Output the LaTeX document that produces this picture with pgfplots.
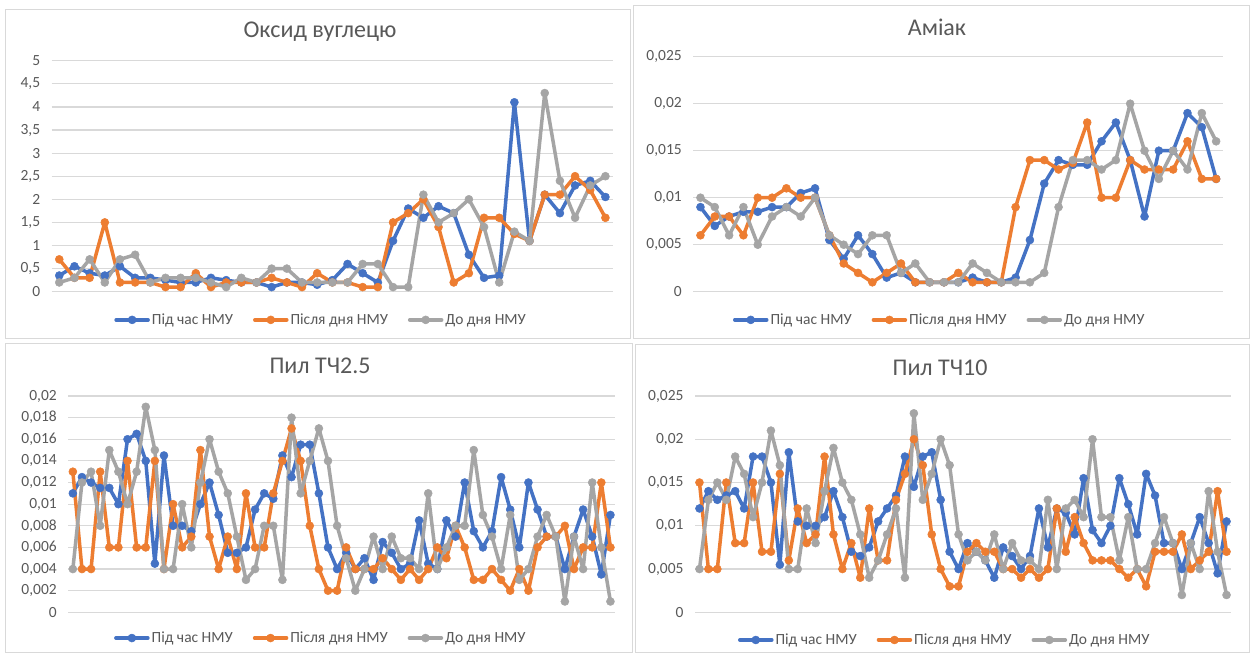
\documentclass[border=0pt]{standalone}
\usepackage{fontspec}
\setmainfont{Carlito}
\usepackage{pgfplots}
\usepackage{pgfplotstable}
\pgfplotsset{compat=1.18}
\definecolor{sblue}{HTML}{4472C4}
\definecolor{sorange}{HTML}{ED7D31}
\definecolor{sgray}{HTML}{A5A5A5}
\definecolor{gridc}{HTML}{D9D9D9}
\definecolor{txt}{HTML}{595959}
\definecolor{framec}{HTML}{D9D9D9}

\pgfplotstableread{
i a b c
0 0.35 0.7 0.2
1 0.55 0.3 0.3
2 0.4 0.3 0.7
3 0.35 1.5 0.2
4 0.55 0.2 0.7
5 0.3 0.2 0.8
6 0.3 0.2 0.2
7 0.25 0.1 0.3
8 0.2 0.1 0.3
9 0.2 0.4 0.3
10 0.3 0.1 0.2
11 0.25 0.2 0.1
12 0.2 0.2 0.3
13 0.2 0.2 0.2
14 0.1 0.3 0.5
15 0.2 0.2 0.5
16 0.2 0.1 0.2
17 0.15 0.4 0.2
18 0.25 0.2 0.2
19 0.6 0.2 0.2
20 0.4 0.1 0.6
21 0.2 0.1 0.6
22 1.1 1.5 0.1
23 1.8 1.7 0.1
24 1.6 2.0 2.1
25 1.85 1.4 1.5
26 1.7 0.2 1.7
27 0.8 0.4 2.0
28 0.3 1.6 1.4
29 0.35 1.6 0.2
30 4.1 1.25 1.3
31 1.1 1.1 1.1
32 2.1 2.1 4.3
33 1.7 2.1 2.4
34 2.3 2.5 1.6
35 2.4 2.2 2.3
36 2.05 1.6 2.5
}\COdata

\pgfplotstableread{
i a b c
0 0.009 0.006 0.010
1 0.007 0.008 0.009
2 0.008 0.008 0.006
3 0.0085 0.006 0.009
4 0.0085 0.010 0.005
5 0.009 0.010 0.008
6 0.009 0.011 0.009
7 0.0105 0.010 0.008
8 0.011 0.010 0.010
9 0.0055 0.006 0.006
10 0.0035 0.003 0.005
11 0.006 0.002 0.004
12 0.004 0.001 0.006
13 0.0015 0.002 0.006
14 0.002 0.003 0.002
15 0.001 0.001 0.003
16 0.001 0.001 0.001
17 0.001 0.001 0.001
18 0.001 0.002 0.001
19 0.0015 0.001 0.003
20 0.001 0.001 0.002
21 0.001 0.001 0.001
22 0.0015 0.009 0.001
23 0.0055 0.014 0.001
24 0.0115 0.014 0.002
25 0.014 0.013 0.009
26 0.0135 0.0137 0.014
27 0.0135 0.018 0.014
28 0.016 0.010 0.013
29 0.018 0.010 0.014
30 0.014 0.014 0.020
31 0.008 0.013 0.015
32 0.015 0.013 0.012
33 0.015 0.013 0.015
34 0.019 0.016 0.013
35 0.0175 0.012 0.019
36 0.012 0.012 0.016
}\NHdata

\pgfplotstableread{
i a b c
0 0.011 0.013 0.004
1 0.0125 0.004 0.012
2 0.012 0.004 0.013
3 0.0115 0.013 0.008
4 0.0115 0.006 0.015
5 0.010 0.006 0.013
6 0.016 0.014 0.010
7 0.0165 0.006 0.013
8 0.014 0.006 0.019
9 0.0045 0.014 0.015
10 0.0145 0.004 0.004
11 0.008 0.010 0.004
12 0.008 0.006 0.010
13 0.0075 0.007 0.006
14 0.010 0.015 0.012
15 0.012 0.007 0.016
16 0.009 0.004 0.013
17 0.0055 0.007 0.011
18 0.0055 0.004 0.007
19 0.006 0.011 0.003
20 0.0095 0.006 0.004
21 0.011 0.006 0.008
22 0.0105 0.011 0.008
23 0.0145 0.014 0.003
24 0.0125 0.017 0.018
25 0.0155 0.014 0.011
26 0.0155 0.008 0.014
27 0.011 0.004 0.017
28 0.006 0.002 0.014
29 0.004 0.002 0.008
30 0.0055 0.006 0.005
31 0.004 0.004 0.002
32 0.005 0.004 0.004
33 0.003 0.004 0.007
34 0.0065 0.005 0.004
35 0.0055 0.004 0.007
36 0.004 0.003 0.005
37 0.0045 0.004 0.005
38 0.0085 0.003 0.004
39 0.0045 0.004 0.011
40 0.004 0.006 0.004
41 0.0085 0.005 0.006
42 0.007 0.008 0.008
43 0.012 0.006 0.008
44 0.0075 0.003 0.015
45 0.006 0.003 0.009
46 0.0075 0.004 0.007
47 0.0125 0.003 0.004
48 0.0095 0.002 0.009
49 0.006 0.004 0.003
50 0.012 0.002 0.004
51 0.0095 0.006 0.007
52 0.007 0.007 0.009
53 0.007 0.007 0.007
54 0.004 0.008 0.001
55 0.007 0.004 0.007
56 0.0095 0.006 0.004
57 0.007 0.006 0.012
58 0.0035 0.012 0.006
59 0.009 0.006 0.001
}\PMtwo

\pgfplotstableread{
i a b c
0 0.012 0.015 0.005
1 0.014 0.005 0.013
2 0.013 0.005 0.015
3 0.0135 0.015 0.013
4 0.014 0.008 0.018
5 0.012 0.008 0.016
6 0.018 0.015 0.011
7 0.018 0.007 0.015
8 0.015 0.007 0.021
9 0.0055 0.016 0.017
10 0.0185 0.006 0.005
11 0.0105 0.012 0.005
12 0.010 0.008 0.012
13 0.010 0.009 0.008
14 0.011 0.018 0.014
15 0.014 0.009 0.019
16 0.011 0.005 0.015
17 0.007 0.008 0.013
18 0.0065 0.004 0.009
19 0.0075 0.012 0.004
20 0.0105 0.006 0.006
21 0.012 0.006 0.009
22 0.0135 0.013 0.012
23 0.018 0.016 0.004
24 0.0145 0.020 0.023
25 0.018 0.017 0.013
26 0.0185 0.009 0.016
27 0.013 0.005 0.020
28 0.007 0.003 0.017
29 0.005 0.003 0.009
30 0.008 0.007 0.006
31 0.007 0.008 0.007
32 0.006 0.007 0.006
33 0.004 0.007 0.009
34 0.0075 0.005 0.005
35 0.0065 0.005 0.008
36 0.005 0.004 0.006
37 0.0065 0.005 0.006
38 0.012 0.004 0.005
39 0.0075 0.005 0.013
40 0.012 0.012 0.005
41 0.0115 0.007 0.012
42 0.009 0.011 0.013
43 0.0155 0.008 0.011
44 0.0095 0.006 0.020
45 0.008 0.006 0.011
46 0.010 0.006 0.011
47 0.0155 0.005 0.006
48 0.0125 0.004 0.011
49 0.009 0.005 0.005
50 0.016 0.003 0.005
51 0.0135 0.007 0.008
52 0.008 0.007 0.011
53 0.008 0.007 0.008
54 0.005 0.009 0.002
55 0.008 0.005 0.008
56 0.011 0.006 0.005
57 0.008 0.007 0.014
58 0.0045 0.014 0.007
59 0.0105 0.007 0.002
}\PMten

\pgfplotsset{
  panel/.style={
    scale only axis, anchor=south west, clip=false,
    axis line style={draw=none},
    ymajorgrids, grid style={gridc, line width=1.2pt},
    xtick=\empty, major tick length=0pt, scaled y ticks=false,
    tick label style={font=\fontsize{15.5}{18}\selectfont, text=txt},
    yticklabel style={anchor=east, xshift=-8pt},
    legend columns=3,
    legend style={draw=none, fill=none, font=\fontsize{15.5}{18}\selectfont, text=txt,
      anchor=center, inner sep=0pt,
      /tikz/every even column/.append style={column sep=18pt}},
    legend image code/.code={\draw[##1, mark repeat=2, mark phase=2] plot coordinates {(0pt,0pt) (16pt,0pt) (32pt,0pt)};},
    every axis plot/.append style={line width=3.5pt, line join=round, line cap=round, mark=*, mark size=4pt, mark options={solid, line width=0.5pt}},
  },
}

\begin{document}
\begin{tikzpicture}
\path[use as bounding box, fill=white] (0pt,0pt) rectangle (1254pt,657pt);
\draw[framec, line width=1pt] (5.5pt,647.5pt) rectangle (630.5pt,318.5pt);
\draw[framec, line width=1pt] (633pt,651.5pt) rectangle (1249.5pt,318.5pt);
\draw[framec, line width=1pt] (5.5pt,313pt) rectangle (632pt,5pt);
\draw[framec, line width=1pt] (635.5pt,312pt) rectangle (1249.5pt,5pt);

\begin{axis}[panel, at={(51.7pt,365.3pt)}, width=561.3pt, height=231pt,
  xmin=-0.5, xmax=36.5, ymin=0, ymax=5,
  ytick={0,0.5,1,1.5,2,2.5,3,3.5,4,4.5,5},
  yticklabels={0,{0,5},1,{1,5},2,{2,5},3,{3,5},4,{4,5},5},
  legend style={at={(0.48,-0.122)}}]
\addplot[sblue] table[x=i,y=a]{\COdata};
\addplot[sorange] table[x=i,y=b]{\COdata};
\addplot[sgray] table[x=i,y=c]{\COdata};
\legend{Під час НМУ, Після дня НМУ, До дня НМУ}
\end{axis}

\begin{axis}[panel, at={(693.3pt,365.3pt)}, width=530pt, height=235pt,
  xmin=-0.5, xmax=36.5, ymin=0, ymax=0.025,
  ytick={0,0.005,0.01,0.015,0.02,0.025},
  yticklabels={0,{0,005},{0,01},{0,015},{0,02},{0,025}},
  legend style={at={(0.465,-0.12)}}]
\addplot[sblue] table[x=i,y=a]{\NHdata};
\addplot[sorange] table[x=i,y=b]{\NHdata};
\addplot[sgray] table[x=i,y=c]{\NHdata};
\legend{Під час НМУ, Після дня НМУ, До дня НМУ}
\end{axis}

\begin{axis}[panel, at={(68.3pt,44.7pt)}, width=546.7pt, height=216.3pt,
  xmin=-0.5, xmax=59.5, ymin=0, ymax=0.02,
  ytick={0,0.002,0.004,0.006,0.008,0.01,0.012,0.014,0.016,0.018,0.02},
  yticklabels={0,{0,002},{0,004},{0,006},{0,008},{0,01},{0,012},{0,014},{0,016},{0,018},{0,02}},
  legend style={at={(0.462,-0.119)}}]
\addplot[sblue] table[x=i,y=a]{\PMtwo};
\addplot[sorange] table[x=i,y=b]{\PMtwo};
\addplot[sgray] table[x=i,y=c]{\PMtwo};
\legend{Під час НМУ, Після дня НМУ, До дня НМУ}
\end{axis}

\begin{axis}[panel, at={(695pt,44.7pt)}, width=536pt, height=216.3pt,
  xmin=-0.5, xmax=59.5, ymin=0, ymax=0.025,
  ytick={0,0.005,0.01,0.015,0.02,0.025},
  yticklabels={0,{0,005},{0,01},{0,015},{0,02},{0,025}},
  legend style={at={(0.466,-0.128)}}]
\addplot[sblue] table[x=i,y=a]{\PMten};
\addplot[sorange] table[x=i,y=b]{\PMten};
\addplot[sgray] table[x=i,y=c]{\PMten};
\legend{Під час НМУ, Після дня НМУ, До дня НМУ}
\end{axis}

\node[font=\fontsize{24}{28}\selectfont, text=txt] at (320pt,625pt) {Оксид вуглецю};
\node[font=\fontsize{24}{28}\selectfont, text=txt] at (937pt,630pt) {Аміак};
\node[font=\fontsize{24}{28}\selectfont, text=txt] at (320pt,291pt) {Пил ТЧ2.5};
\node[font=\fontsize{24}{28}\selectfont, text=txt] at (940pt,289pt) {Пил ТЧ10};
\end{tikzpicture}
\end{document}
